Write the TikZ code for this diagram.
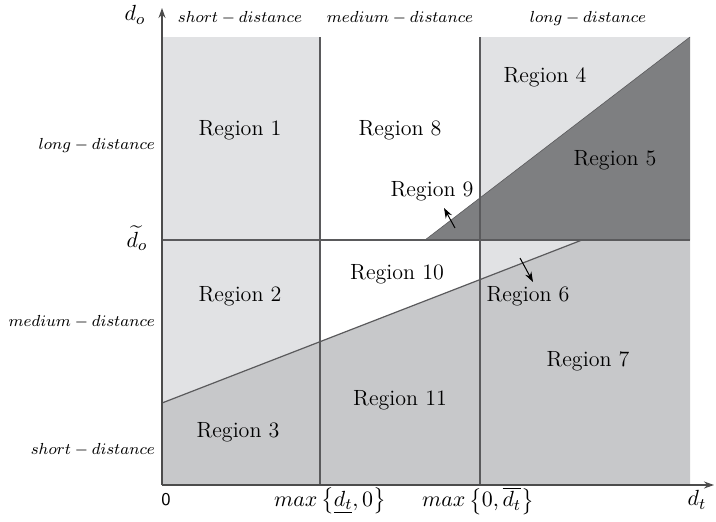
\documentclass[tikz,border=0pt]{standalone}
\usepackage{amsmath}
\usetikzlibrary{arrows.meta}
\definecolor{light}{HTML}{E1E2E4}
\definecolor{mid}{HTML}{C7C8CA}
\definecolor{dark}{HTML}{7E7F81}
\definecolor{rule}{HTML}{5A5A5C}

\begin{document}
\begin{tikzpicture}[x=0.5pt,y=0.5pt, every node/.style={font=\fontsize{11}{13}\selectfont},
    lbl/.style={font=\fontsize{8.5}{10}\selectfont},
    ln/.style={rule,line width=0.6pt},
    axis/.style={black!70,line width=0.6pt,-{Stealth[length=5pt,width=3.5pt]}},
    arr/.style={black,line width=0.5pt,-{Stealth[length=5pt,width=3.5pt]}}]
    \useasboundingbox (-162,-36) rectangle (554,485);
    % corner points of the plot
    \coordinate (o) at (0,0);
    \coordinate (ytip) at (0,477);
    \coordinate (xtip) at (552,0);
    \coordinate (lowA) at (0,82);
    \coordinate (lowB) at (420,245);
    \coordinate (upA) at (263,245);
    \coordinate (upB) at (528,448);
    % fills
    \fill[light] (0,0) rectangle (158,448);
    \fill[light] (318,0) rectangle (528,448);
    \fill[dark] (upA) -- (upB) -- (528,245) -- cycle;
    \fill[mid] (o) -- (lowA) -- (lowB) -- (528,245) -- (528,0) -- cycle;
    % boundaries
    \draw[ln] (158,0) -- (158,448);
    \draw[ln] (318,0) -- (318,448);
    \draw[ln] (0,245) -- (528,245);
    \draw[ln] (lowA) -- (lowB);
    \draw[rule,line width=0.3pt] (upA) -- (upB);
    \draw[axis] (o) -- (ytip);
    \draw[axis] (o) -- (xtip);
    % axis labels
    \node (do) at (-27,470) {$d_o$};
    \node[lbl] (cs) at (78,467) {$short-distance$};
    \node[lbl] (cm) at (238,467) {$medium-distance$};
    \node[lbl] (cl) at (426,467) {$long-distance$};
    \node[lbl,anchor=east] (rl) at (0,340) {$long-distance$};
    \node[inner sep=1pt] (dt0) at (-25,247) {$\widetilde{d_o}$};
    \node[lbl,anchor=east] (rm) at (0,163) {$medium-distance$};
    \node[lbl,anchor=east] (rs) at (0,35) {$short-distance$};
    \node[font=\sffamily\fontsize{9}{10}\selectfont] (zero) at (4,-15) {0};
    \node (mx1) at (168,-16) {$max\left\{\underline{d_t},0\right\}$};
    \node (mx2) at (316,-16) {$max\left\{0,\overline{d_t}\right\}$};
    \node (dt) at (535,-15) {$d_t$};
    % regions
    \node (r1) at (78,355) {Region 1};
    \node (r2) at (78,189) {Region 2};
    \node (r3) at (76,53) {Region 3};
    \node (r4) at (383,408) {Region 4};
    \node (r5) at (453,325) {Region 5};
    \node (r6) at (366,189) {Region 6};
    \node (r7) at (426,124) {Region 7};
    \node (r8) at (238,355) {Region 8};
    \node (r9) at (270,294) {Region 9};
    \node (r10) at (235,211) {Region 10};
    \node (r11) at (238,85) {Region 11};
    % pointers
    \coordinate (p9a) at (293,257); \coordinate (p9b) at (282,277);
    \coordinate (p6a) at (358,227); \coordinate (p6b) at (371,203);
    \draw[arr] (p9a) -- (p9b);
    \draw[arr] (p6a) -- (p6b);
\end{tikzpicture}
\end{document}
